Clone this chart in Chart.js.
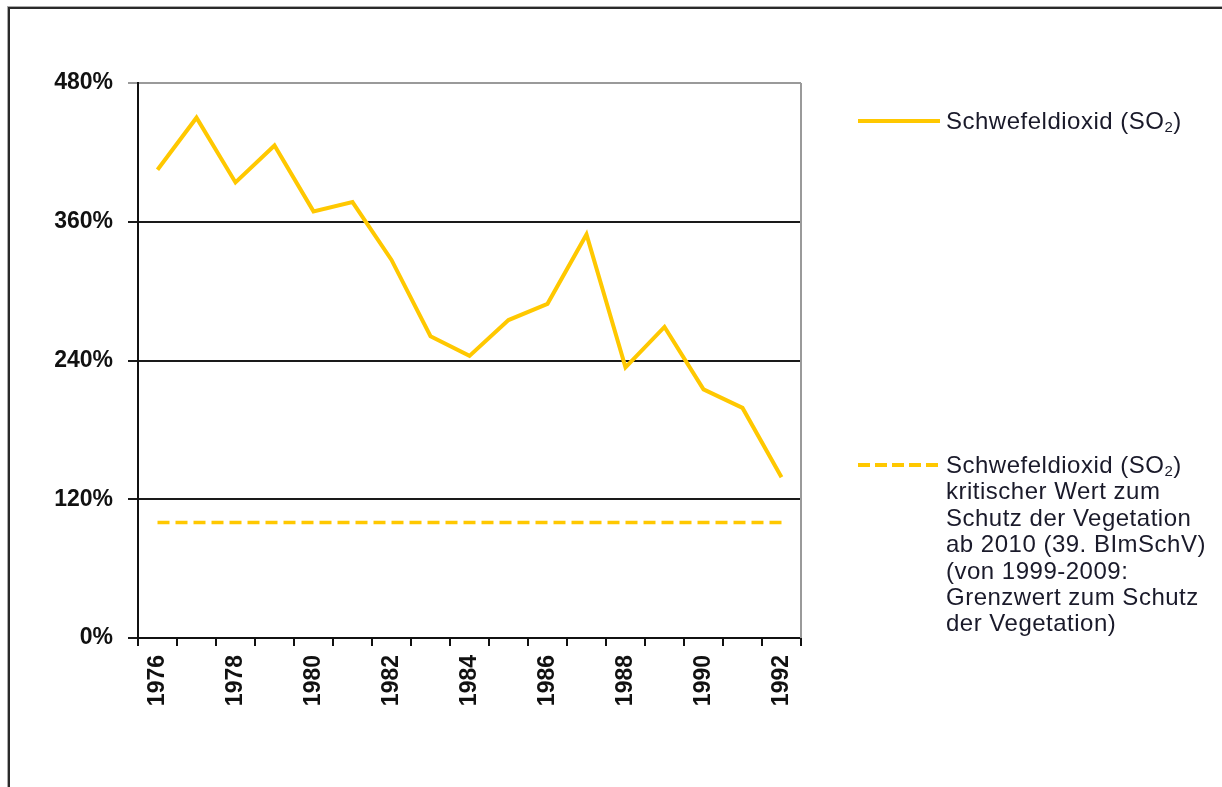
<!DOCTYPE html>
<html>
<head>
<meta charset="utf-8">
<script src="https://cdn.jsdelivr.net/npm/chart.js@4/dist/chart.umd.min.js"></script>
<style>
  html, body { margin: 0; padding: 0; background: #fff; width: 1222px; height: 787px; overflow: hidden; }
  #frame { position: absolute; left: 8px; top: 7px; width: 1400px; height: 900px;
           border-left: 2px solid #2a2a2a; border-top: 2px solid #2a2a2a; box-shadow: -1px -1px 0 #aaa; }
  #chart { position: absolute; left: 0; top: 0; }
  .leg { position: absolute; font-family: "Liberation Sans", Arial, sans-serif; font-size: 24px;
         letter-spacing: 0.5px; line-height: 26.4px; color: #1a1a2a; white-space: nowrap; }
  .leg sub { font-size: 15px; vertical-align: -3px; line-height: 0; }
  svg { position: absolute; }
</style>
</head>
<body>
<div id="frame"></div>
<canvas id="chart" width="1222" height="787"></canvas>

<svg style="left:856px; top:115px" width="86" height="12">
  <line x1="2" y1="6" x2="84" y2="6" stroke="#FFC800" stroke-width="4"/>
</svg>
<div class="leg" style="left:946px; top:108px">Schwefeldioxid (SO<sub>2</sub>)</div>

<svg style="left:856px; top:459px" width="86" height="12">
  <line x1="2" y1="6" x2="84" y2="6" stroke="#FFC800" stroke-width="4" stroke-dasharray="12 5"/>
</svg>
<div class="leg" style="left:946px; top:452px">Schwefeldioxid (SO<sub>2</sub>)<br>kritischer Wert zum<br>Schutz der Vegetation<br>ab 2010 (39. BImSchV)<br>(von 1999-2009:<br>Grenzwert zum Schutz<br>der Vegetation)</div>

<script>
// Jahre
const years = ['1976', '1977', '1978', '1979', '1980', '1981', '1982', '1983', '1984',
               '1985', '1986', '1987', '1988', '1989', '1990', '1991', '1992'];

// SO2 in %
const so2Values = [405, 450, 394, 426, 369, 377, 327, 261, 244, 275, 289, 349, 234, 269, 215, 199, 139];

// kritischer Wert
const limitValues = [100, 100, 100, 100, 100, 100, 100, 100, 100, 100, 100, 100, 100, 100, 100, 100, 100];

const yTicks = [0, 120, 240, 360, 480];

const seriesLabels = ['Schwefeldioxid (SO2)', 'Schwefeldioxid (SO2) kritischer Wert zum Schutz der Vegetation'];

const GOLD = '#FFC800';

// rechter Rand der Zeichenfläche
const rightBorder = {
  id: 'rightBorder',
  afterDraw(chart) {
    const a = chart.chartArea;
    const ctx = chart.ctx;
    ctx.save();
    ctx.strokeStyle = '#9a9a9a';
    ctx.lineWidth = 2;
    ctx.beginPath();
    ctx.moveTo(a.right, a.top);
    ctx.lineTo(a.right, a.bottom);
    ctx.stroke();
    ctx.restore();
  }
};

const ctx = document.getElementById('chart').getContext('2d');

new Chart(ctx, {
  type: 'line',
  data: {
    labels: years,
    datasets: [
      {
        label: seriesLabels[0],
        data: so2Values,
        borderColor: GOLD,
        borderWidth: 4,
        pointRadius: 0,
        tension: 0
      },
      {
        label: seriesLabels[1],
        data: limitValues,
        borderColor: GOLD,
        borderWidth: 3.5,
        borderDash: [12, 6],
        pointRadius: 0,
        tension: 0
      }
    ]
  },
  options: {
    responsive: false,
    animation: false,
    layout: { padding: { top: 83, right: 421, bottom: 0, left: 0 } },
    plugins: {
      legend: { display: false },
      tooltip: { enabled: false }
    },
    scales: {
      x: {
        offset: true,
        afterFit: (s) => { s.height = 149; },
        grid: {
          offset: true,
          drawOnChartArea: false,
          drawTicks: true,
          tickLength: 8,
          color: '#111',
          lineWidth: 2
        },
        border: { display: true, color: '#111', width: 2 },
        ticks: {
          autoSkip: false,
          minRotation: 90,
          maxRotation: 90,
          padding: 9,
          color: '#111',
          font: { family: '"Liberation Sans", Arial, sans-serif', size: 23, weight: 'bold' },
          callback: (v, i) => (i % 2 === 0 ? years[i] : '')
        }
      },
      y: {
        min: 0,
        max: 480,
        afterFit: (s) => { s.width = 138; },
        afterBuildTicks: (s) => { s.ticks = yTicks.map(v => ({ value: v })); },
        grid: {
          color: (c) => (c.tick && c.tick.value === 480 ? '#9a9a9a' : '#1a1a1a'),
          lineWidth: 2,
          tickLength: 10
        },
        border: { display: true, color: '#111', width: 2 },
        ticks: {
          padding: 15,
          color: '#111',
          font: { family: '"Liberation Sans", Arial, sans-serif', size: 23, weight: 'bold' },
          callback: (v) => v + '%'
        }
      }
    }
  },
  plugins: [rightBorder]
});
</script>
</body>
</html>
